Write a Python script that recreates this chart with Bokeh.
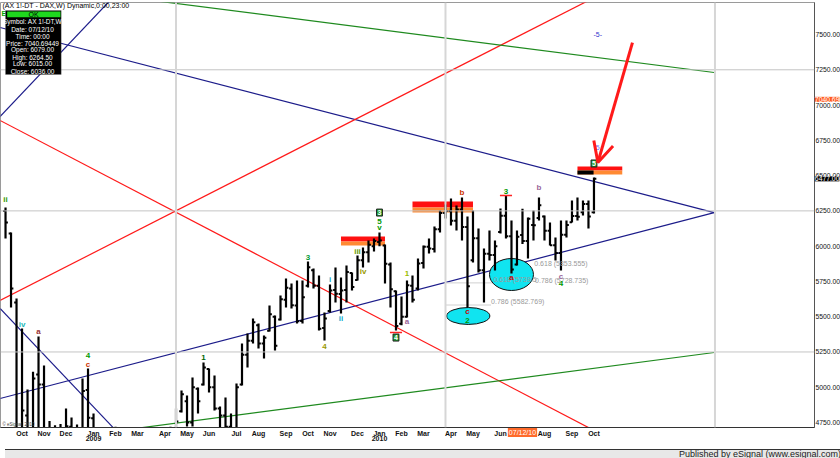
import numpy as np
import pandas as pd
from bokeh.plotting import figure
from bokeh.models import (Range1d, FixedTicker, PrintfTickFormatter, Span, Label,
                          BoxAnnotation, Arrow, OpenHead, Div, ColumnDataSource)
from bokeh.layouts import column
from bokeh.core.properties import value
from bokeh.embed import file_html
from bokeh.resources import INLINE

FONT = "Liberation Sans"

# ---------------- data: weekly OHLC bars (AX 1!-DT, weekly) ----------------
first_week = "2008-09-15"
opens = [6250, 6090, 5600, 4550, 4800, 4300, 5090, 5020, 4600, 4130,
         4660, 4380, 4720, 4690, 4630, 4980, 4780, 4330, 4240, 4340,
         4640, 4500, 4210, 3840, 3690, 3950, 4000, 4170, 4380, 4440,
         4640, 4520, 4830, 4900, 4750, 4990, 5020, 5130, 5000, 4850,
         4800, 4720, 4600, 5020, 5230, 5330, 5440, 5310, 5400, 5500,
         5480, 5620, 5700, 5580, 5470, 5720, 5830, 5720, 5420, 5540,
         5690, 5660, 5690, 5810, 5760, 5900, 5957, 6000, 6030, 6005,
         5870, 5680, 5450, 5500, 5720, 5700, 5880, 5995, 5980, 6120,
         6235, 6250, 6180, 6259, 6135, 5900, 6056, 5830, 5946, 5938,
         6100, 6216, 6070, 5870, 6079, 6036, 6150, 6200, 6210, 6110,
         6006, 5951, 6080, 6170, 6214, 6240, 6298, 6240]
highs = [6274, 6097, 5629, 5416, 4984, 5110, 5360, 5154, 4760, 4730,
         4740, 4850, 4785, 4735, 5062, 5133, 4814, 4600, 4500, 4700,
         4720, 4520, 4250, 3900, 4000, 4100, 4300, 4400, 4500, 4700,
         4720, 4849, 4977, 4941, 5069, 4998, 5175, 5133, 5083, 4863,
         4927, 4814, 5026, 5310, 5381, 5487, 5452, 5367, 5579, 5508,
         5650, 5771, 5735, 5756, 5756, 5891, 5842, 5792, 5530, 5728,
         5849, 5778, 5863, 5813, 5934, 5990, 6040, 6054, 6097, 6012,
         5884, 5686, 5643, 5757, 5792, 5912, 6005, 6054, 6139, 6253,
         6295, 6338, 6288, 6345, 6210, 6253, 6125, 5983, 6111, 6040,
         6267, 6359, 6182, 6111, 6264.5, 6203, 6253, 6345, 6217, 6168,
         6061, 6182, 6182, 6324, 6345, 6324, 6324, 6487]
lows = [6054, 5565, 4300, 4200, 4200, 4100, 4600, 4400, 4050, 4100,
        4300, 4350, 4560, 4580, 4620, 4700, 4300, 4200, 4100, 4300,
        4400, 4150, 3820, 3600, 3590, 3900, 3950, 3950, 4300, 4400,
        4450, 4500, 4821, 4722, 4722, 4814, 5012, 4963, 4835, 4707,
        4707, 4560, 4580, 5012, 5140, 5310, 5274, 5204, 5395, 5260,
        5473, 5565, 5558, 5452, 5452, 5707, 5700, 5402, 5331, 5530,
        5600, 5523, 5601, 5686, 5756, 5849, 5884, 5962, 6000, 5735,
        5565, 5402, 5440, 5494, 5600, 5686, 5842, 5948, 5955, 6097,
        6196, 6146, 6111, 6040, 5565, 5884, 5813, 5600, 5898, 5827,
        6090, 6054, 5806, 5863, 6015, 5912, 6040, 6182, 6040, 6005,
        5898, 5827, 6061, 6168, 6182, 6217, 6125, 6231]
closes = [6168, 5700, 4550, 4835, 4295, 5062, 5020, 4627, 4127, 4669,
          4381, 4723, 4697, 4629, 4973, 4783, 4335, 4239, 4338, 4645,
          4500, 4215, 3843, 3695, 3953, 4000, 4176, 4383, 4445, 4640,
          4522, 4757, 4950, 4750, 5000, 4900, 5140, 5000, 4850, 4800,
          4720, 4600, 5000, 5230, 5330, 5460, 5310, 5350, 5517, 5294,
          5624, 5706, 5581, 5468, 5638, 5850, 5720, 5414, 5488, 5686,
          5663, 5685, 5817, 5710, 5900, 5957, 6010, 6037, 6040, 5875,
          5695, 5434, 5500, 5722, 5620, 5877, 5995, 5983, 6120, 6235,
          6250, 6180, 6259, 6135, 5715, 6056, 5830, 5946, 5938, 6000,
          6216, 6070, 5834, 6066, 6036, 6195, 6148, 6290, 6110, 6006,
          5951, 6080, 6150, 6214, 6209, 6298, 6211, 6477]
n_weeks = len(opens)
assert len(highs) == len(lows) == len(closes) == n_weeks

price_ticks = [4750, 5000, 5250, 5500, 5750, 6000, 6250, 6500, 6750, 7000, 7250, 7500]
price_grid = [5250, 6250, 7250]
last_price = 6477.00
cursor_price = 7040.69
cursor_date_text = "07/12/10"
month_names = ["Jan", "Feb", "Mar", "Apr", "May", "Jun", "Jul", "Aug", "Sep", "Oct", "Nov", "Dec"]

# trend lines: (start date, start price, end date, end price, colour)
trend_lines = [
    ("2008-09-08", 7550, "2011-03-06", 6238, "#1c1c8a"),
    ("2008-09-08", 4920, "2011-03-06", 6238, "#1c1c8a"),
    ("2008-09-08", 6919, "2009-01-26", 7741, "#1c1c8a"),
    ("2008-09-08", 5558, "2009-01-30", 4714, "#1c1c8a"),
    ("2008-09-08", 5615, "2010-09-27", 7741, "#ff1a1a"),
    ("2008-09-08", 6891, "2010-09-27", 4714, "#ff1a1a"),
    ("2009-03-22", 7741, "2011-03-06", 7231, "#1f8a1f"),
    ("2009-03-08", 4714, "2011-03-06", 5246, "#1f8a1f"),
]
# supply zones: (left, right, bottom, mid, top)
zones = [
    ("2009-11-16", "2010-01-11", 6005, 6033, 6068),
    ("2010-02-15", "2010-05-03", 6238, 6274, 6316),
    ("2010-09-13", "2010-11-09", 6508, 6536, 6564),
]
# cyan ellipses: (centre date, centre price, width days, height price)
ellipses = [("2010-06-21", 5799, 56, 227), ("2010-04-27", 5505, 55, 120)]
# fibonacci notes: (date, price, text)
fib_notes = [("2010-07-20", 5853.555, "0.618 (5853.555)"),
             ("2010-07-21", 5728.735, "0.786 (5728.735)"),
             ("2010-05-29", 5739.5, "0.618 (5739.5"),
             ("2010-05-26", 5582.769, "0.786 (5582.769)")]
fib_lines = [("2010-03-29", "2010-05-26", 5582.769), ("2010-03-29", "2010-05-29", 5739.5)]
# wave labels: (text, bar index from 2008-10-06, price, colour)
wave_labels = [
    ("ii", -3, 6330, "#339900"), ("iv", 0, 5445, "#22b8b8"), ("a", 3, 5395, "#993333"),
    ("4", 12, 5228, "#009900"), ("c", 12, 5161, "#cc3300"), ("1", 33, 5211, "#006600"),
    ("3", 52, 5920, "#009933"), ("4", 55, 5289, "#999900"), ("i", 56, 5764, "#11aacc"),
    ("ii", 58, 5487, "#11aacc"), ("iii", 61, 5962, "#669900"), ("iv", 62, 5820, "#999900"),
    ("5", 65, 6175, "#009900"), ("v", 65, 6132, "#009900"), ("1", 70, 5806, "#99bb00"),
    ("a", 70, 5466, "#996699"), ("b", 80, 6380, "#cc3300"), ("c", 81, 5537, "#cc0000"),
    ("2", 81, 5473, "#009900"), ("3", 88, 6387, "#009900"), ("a", 89, 5778, "#cc0000"),
    ("b", 94, 6416, "#996699"), ("c", 98, 5785, "#996699"), ("4", 98, 5733, "#009900"),
]
box_labels = [("3", 65, 6238), ("4", 68, 5352), ("5", 104, 6586)]
red_marks = [(88, 6359), (68, 5388)]

# ---------------- helpers ----------------
EPOCH = pd.Timestamp("1970-01-01")
DAY = 86400000.0


def ms(t):
    return float((pd.Timestamp(t) - EPOCH) // pd.Timedelta(milliseconds=1))


dates = pd.date_range(first_week, periods=n_weeks, freq="7D")
xs = [ms(d) for d in dates]
base = ms("2008-10-06")


def bar_x(i):
    return base + 7 * i * DAY


W = 814
PX_PER_DAY = 5.5 / 7.0
X0 = base - 27.4 * DAY
Y0, Y1 = 4714.6, 7727.0


def sx(x):
    """horizontal position (px from the frame's left edge)"""
    return x


def py(y):
    """price level that sits y px below the top of the picture"""
    return Y1 - (y - 2) * (Y1 - Y0) / 425.0


p = figure(frame_width=W, height=444,
           x_range=Range1d(X0, base + 1008.7 * DAY),
           y_range=Range1d(Y0, Y1),
           y_axis_location="right", output_backend="svg", toolbar_location=None,
           min_border_left=0, min_border_top=2, min_border_right=0, min_border_bottom=17)
p.background_fill_color = "white"
p.border_fill_color = "white"
p.outline_line_color = "#9a9a9a"
p.xgrid.visible = False
p.ygrid.visible = False

# grid
for pr in price_grid:
    p.add_layout(Span(location=pr, dimension="width", line_color="#c4c4c4", line_width=1))
for k in range(3):
    p.add_layout(Span(location=bar_x(28 + 49 * k), dimension="height",
                      line_color="#d6d6d6", line_width=2))

# axes
ticks, overrides = [], {}
seen = set()
jul_x = None
for d, x in zip(dates, xs):
    if d < pd.Timestamp("2008-10-01"):
        continue
    key = (d.year, d.month)
    if key in seen:
        continue
    seen.add(key)
    ticks.append(x)
    lab = month_names[d.month - 1]
    if d.month == 1:
        lab += "\n" + str(d.year)
    if d.year == 2010 and d.month == 7:
        lab = " "
        jul_x = x
    overrides[x] = lab
p.xaxis.ticker = FixedTicker(ticks=ticks, minor_ticks=[])
p.xaxis.major_label_overrides = overrides
p.xaxis.axis_line_color = "#333333"
p.xaxis.major_tick_out = 0
p.xaxis.major_tick_in = 0
p.xaxis.major_tick_line_color = None
p.xaxis.minor_tick_line_color = None
p.xaxis.major_label_text_font = FONT
p.xaxis.major_label_text_font_size = "7px"
p.xaxis.major_label_text_font_style = "bold"
p.xaxis.major_label_text_line_height = 0.75
p.xaxis.major_label_text_color = "#111111"
p.xaxis.major_label_standoff = 2

p.yaxis.ticker = FixedTicker(ticks=price_ticks, minor_ticks=[])
p.yaxis.formatter = PrintfTickFormatter(format="%.2f")
p.yaxis.axis_line_color = "#555555"
p.yaxis.major_tick_out = 0
p.yaxis.major_tick_in = 0
p.yaxis.major_tick_line_color = None
p.yaxis.minor_tick_line_color = None
p.yaxis.major_label_text_font = FONT
p.yaxis.major_label_text_font_size = "6.8px"
p.yaxis.major_label_text_color = "#111111"
p.yaxis.major_label_standoff = 1

# trend lines
for (d0, p0, d1, p1, col) in trend_lines:
    p.line([ms(d0), ms(d1)], [p0, p1], line_color=col, line_width=1.2)

# fib lines
for (d0, d1, pr) in fib_lines:
    p.line([ms(d0), ms(d1)], [pr, pr], line_color="#d0d0d0", line_width=1)

# zones
for (l, r, b, m, t) in zones:
    p.quad(left=ms(l), right=ms(r), bottom=m, top=t, fill_color="#ff1111", line_color=None)
    p.quad(left=ms(l), right=ms(r), bottom=b, top=m, fill_color="#ff8a33", line_color=None)
z3 = zones[2]
p.quad(left=ms(z3[0]), right=bar_x(104) - 0.5 * DAY, bottom=z3[2], top=z3[3],
       fill_color="black", line_color=None)

# ellipses
for (d, pr, wd, ht) in ellipses:
    p.ellipse(x=ms(d), y=pr, width=wd * DAY, height=ht, fill_color="#10e4f0",
              line_color="#111111", line_width=1)

# bars
src = ColumnDataSource(dict(x=xs, o=opens, h=highs, l=lows, c=closes,
                            xl=[x - 3 * DAY for x in xs], xr=[x + 3 * DAY for x in xs]))
p.segment(x0="x", y0="l", x1="x", y1="h", source=src, line_color="black", line_width=2.2)
p.segment(x0="xl", y0="o", x1="x", y1="o", source=src, line_color="black", line_width=2)
p.segment(x0="x", y0="c", x1="xr", y1="c", source=src, line_color="black", line_width=2)

# red markers
for (i, pr) in red_marks:
    p.line([bar_x(i - 1.1), bar_x(i + 1.1)], [pr, pr], line_color="#ff2222", line_width=1.5)

# fib texts
fsrc = ColumnDataSource(dict(x=[ms(f[0]) for f in fib_notes], y=[f[1] for f in fib_notes],
                             t=[f[2] for f in fib_notes]))
p.text(x="x", y="y", text="t", source=fsrc, text_font=value(FONT), text_font_size="7px",
       text_color="#9a9a9a", text_baseline="bottom", text_align="left")

# wave labels
wsrc = ColumnDataSource(dict(x=[bar_x(w[1]) for w in wave_labels], y=[w[2] for w in wave_labels],
                             t=[w[0] for w in wave_labels], c=[w[3] for w in wave_labels]))
p.text(x="x", y="y", text="t", text_color="c", source=wsrc, text_font=value(FONT),
       text_font_size="8px", text_font_style="bold", text_align="center", text_baseline="middle")

for (t, i, pr) in box_labels:
    p.add_layout(Label(x=bar_x(i), y=pr, text=t, text_font=FONT, text_font_size="7px",
                       text_font_style="bold", text_color="white", text_align="center",
                       text_baseline="middle", background_fill_color="#1e9e2e",
                       border_line_color="#222222", padding=1))

p.add_layout(Label(x=bar_x(104.7), y=6699, text="5", text_font=FONT, text_font_size="7px",
                   text_color="#7070ff", text_align="center", text_baseline="middle"))
p.add_layout(Label(x=bar_x(104.7), y=7500, text="-5-", text_font=FONT, text_font_size="7px",
                   text_color="#3333cc", text_align="center", text_baseline="middle"))

# arrow
p.add_layout(Arrow(end=OpenHead(size=20, line_color="#ff1a1a", line_width=3),
                   x_start=ms("2010-11-22"), y_start=7443, x_end=ms("2010-10-09"), y_end=6593,
                   line_color="#ff1a1a", line_width=3))

# title & info box
p.add_layout(Label(x=sx(2), y=py(5), x_units="screen",
                   text="(AX 1!-DT - DAX,W) Dynamic,0:00,23:00", text_font=FONT,
                   text_font_size="7px", text_color="black", text_baseline="middle"))
p.add_layout(Label(x=sx(1), y=py(13), x_units="screen", text="E",
                   text_font=FONT, text_font_size="7px", text_font_style="bold",
                   text_color="#00aa00", text_baseline="middle"))
p.add_layout(BoxAnnotation(left=sx(5), right=sx(60.7), top=py(10), bottom=py(74),
                           left_units="screen", right_units="screen",
                           fill_color="black", fill_alpha=1,
                           line_color="#777777", line_width=1))
p.add_layout(BoxAnnotation(left=sx(6.7), right=sx(60), top=py(11), bottom=py(16.7),
                           left_units="screen", right_units="screen",
                           fill_color="#1ed81e", fill_alpha=1, line_color=None))
p.add_layout(Label(x=sx(33), y=py(14), x_units="screen", text="OK",
                   text_font=FONT, text_font_size="7px", text_color="black",
                   text_align="center", text_baseline="middle"))
info_lines = ["Symbol: AX 1!-DT,W", "Date: 07/12/10", "Time: 00:00", "Price: 7040.69449",
              "Open: 6079.00", "High: 6264.50", "Low: 6015.00", "Close: 6036.00"]
info_y = [21, 28.5, 35.7, 42.7, 49.3, 56.7, 63.3, 70.7]
for t, yy in zip(info_lines, info_y):
    p.add_layout(Label(x=sx(32), y=py(yy), x_units="screen", text=t,
                       text_font=FONT, text_font_size="6.5px", text_color="white",
                       text_align="center", text_baseline="middle"))
p.add_layout(Label(x=sx(2), y=py(424), x_units="screen",
                   text="\u00a9 eSignal, 2010", text_font=FONT, text_font_size="4.5px",
                   text_color="#444444", text_baseline="middle"))

# markers drawn over the axes: side-panel labels (not clipped to the frame),
# positioned through the frame's own scales
x_axis_right = X0 + (840 - 1) / PX_PER_DAY * DAY      # right edge of the price-axis strip
price_below = py(432)                                  # level of the date-axis labels
p.add_layout(Label(x=x_axis_right, y=cursor_price, text="%.2f" % cursor_price,
                   text_font=FONT, text_font_size="6.8px", text_color="white",
                   background_fill_color="#ff5a1e", text_baseline="middle", text_align="right",
                   padding=0), "right")
p.add_layout(Label(x=x_axis_right, y=last_price, text="%.2f" % last_price,
                   text_font=FONT, text_font_size="6.8px", text_color="white",
                   background_fill_color="black", text_baseline="middle", text_align="right",
                   padding=0), "right")
p.add_layout(Label(x=jul_x, y=price_below, text=cursor_date_text,
                   text_font=FONT, text_font_size="7px", text_color="white",
                   background_fill_color="#ff6a2a", text_align="center",
                   text_baseline="middle", padding=1), "right")

footer = Div(text="Published by eSignal (www.esignal.com)", width=840, height=12,
             styles={"background-color": "#e8e8e8", "border-top": "1px solid #333333",
                     "text-align": "right", "font-family": "Liberation Sans",
                     "font-size": "9px", "line-height": "9px", "padding-right": "4px",
                     "padding-top": "0px", "box-sizing": "border-box", "color": "#222222",
                     "overflow": "visible"})

layout = column(p, footer, spacing=0)
open("out.html", "w").write(file_html(layout, INLINE))
